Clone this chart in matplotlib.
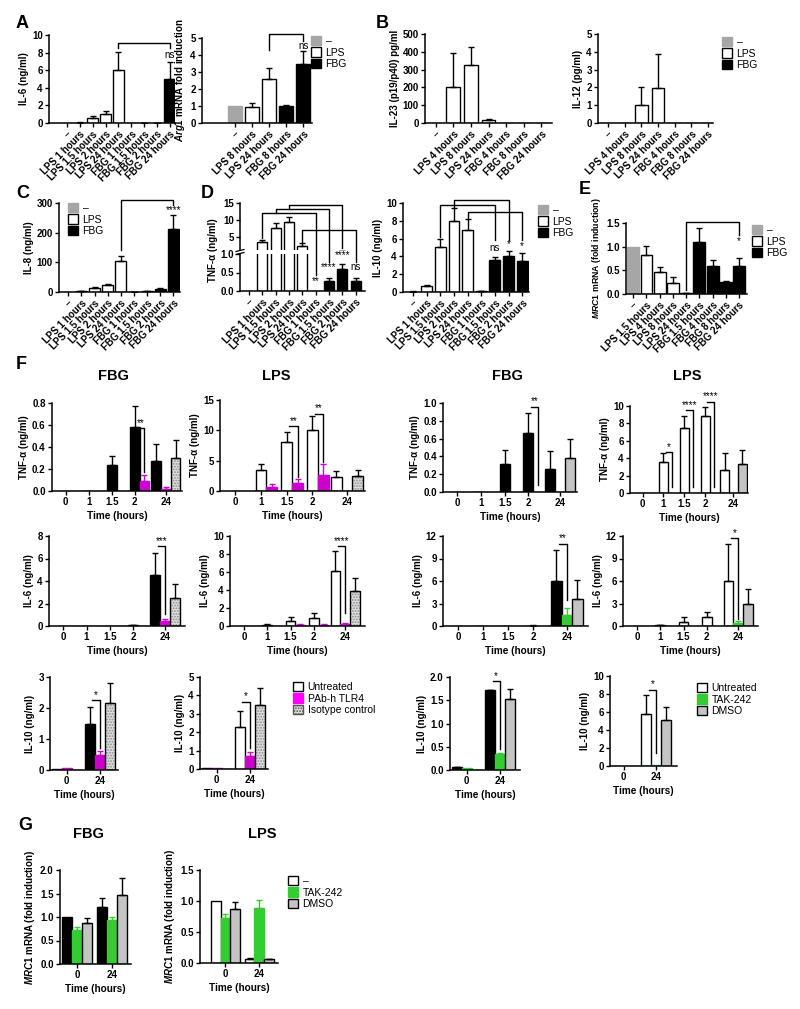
import numpy as np
import matplotlib
matplotlib.use('Agg')
import matplotlib.pyplot as plt
from matplotlib.patches import Patch
from matplotlib.lines import Line2D

plt.rcParams['font.family'] = ['Liberation Sans', 'DejaVu Sans']
plt.rcParams['font.weight'] = 'bold'
plt.rcParams['axes.labelweight'] = 'bold'
plt.rcParams['mathtext.fontset'] = 'custom'
plt.rcParams['mathtext.it'] = 'Liberation Sans:italic:bold'
plt.rcParams['mathtext.rm'] = 'Liberation Sans:bold'
plt.rcParams['mathtext.bf'] = 'Liberation Sans:bold'
plt.rcParams['hatch.linewidth'] = 0.9

W, H = 800, 1009
fig = plt.figure(figsize=(W / 100, H / 100), dpi=100)

# ------------------------------------------------------------------ DATA
a_il6_cats = ['–', 'LPS 1 hours', 'LPS 1.5 hours', 'LPS 2 hours', 'LPS 24 hours',
              'FBG 1 hours', 'FBG 1.5 hours', 'FBG 2 hours', 'FBG 24 hours']
a_il6 = [0, 0.05, 0.55, 1.0, 6.05, 0.0, 0.02, 0.03, 5.05]
a_il6_err = [0, 0.05, 0.3, 0.4, 2.05, 0, 0.01, 0.02, 1.85]

a_arg1_cats = ['–', 'LPS 8 hours', 'LPS 24 hours', 'FBG 8 hours', 'FBG 24 hours']
a_arg1 = [1.0, 0.93, 2.57, 1.02, 3.45]
a_arg1_err = [0, 0.22, 0.65, 0.04, 0.8]

b_cats = ['–', 'LPS 4 hours', 'LPS 8 hours', 'LPS 24 hours',
          'FBG 4 hours', 'FBG 8 hours', 'FBG 24 hours']
b_il23 = [0, 200, 327, 15, 0, 0, 0]
b_il23_err = [0, 195, 98, 8, 0, 0, 0]
b_il12 = [0, 0, 1.0, 1.95, 0, 0, 0]
b_il12_err = [0, 0, 1.0, 1.93, 0, 0, 0]

cd_cats = a_il6_cats
c_il8 = [0, 3, 13, 22, 103, 1, 3, 10, 213]
c_il8_err = [0, 1.5, 3, 6, 18, 0.5, 1.5, 3, 48]
d_tnf = [0, 3.5, 7.6, 9.4, 2.2, 0.005, 0.26, 0.6, 0.26]
d_tnf_err = [0, 0.6, 1.3, 1.4, 1.0, 0, 0.1, 0.14, 0.1]
d_il10 = [0.05, 0.65, 5.1, 8.0, 6.95, 0.1, 3.55, 4.0, 3.5]
d_il10_err = [0.02, 0.12, 0.9, 1.4, 1.2, 0.03, 0.4, 0.6, 0.9]

e_cats = ['–', 'LPS 1.5 hours', 'LPS 4 hours', 'LPS 8 hours', 'LPS 24 hours',
          'FBG 1.5 hours', 'FBG 4 hours', 'FBG 8 hours', 'FBG 24 hours']
e_mrc1 = [1.0, 0.82, 0.47, 0.23, 0.02, 1.1, 0.6, 0.26, 0.59]
e_mrc1_err = [0, 0.19, 0.11, 0.13, 0.01, 0.3, 0.11, 0.02, 0.18]

f_times = ['0', '1', '1.5', '2', '24']
# TNF-alpha, PAb-h TLR4 experiment
f_tnf_fbg_unt = [0, 0, 0.24, 0.58, 0.27]
f_tnf_fbg_unt_err = [0, 0, 0.08, 0.19, 0.16]
f_tnf_fbg_pab = [0, 0, 0, 0.09, 0.02]
f_tnf_fbg_pab_err = [0, 0, 0, 0.06, 0.015]
f_tnf_fbg_iso = [0, 0, 0, 0, 0.30]
f_tnf_fbg_iso_err = [0, 0, 0, 0, 0.16]
f_tnf_lps_unt = [0, 3.5, 8.0, 10.0, 2.35]
f_tnf_lps_unt_err = [0, 1.0, 1.8, 2.4, 1.0]
f_tnf_lps_pab = [0, 0.7, 1.35, 2.6, 0.05]
f_tnf_lps_pab_err = [0, 0.4, 0.65, 1.85, 0]
f_tnf_lps_iso = [0, 0, 0, 0, 2.5]
f_tnf_lps_iso_err = [0, 0, 0, 0, 0.95]
# TNF-alpha, TAK-242 experiment
f_tnf_fbg2_unt = [0, 0, 0.32, 0.66, 0.26]
f_tnf_fbg2_unt_err = [0, 0, 0.15, 0.23, 0.2]
f_tnf_fbg2_tak = [0, 0, 0, 0, 0]
f_tnf_fbg2_tak_err = [0, 0, 0, 0, 0]
f_tnf_fbg2_dmso = [0, 0, 0, 0, 0.38]
f_tnf_fbg2_dmso_err = [0, 0, 0, 0, 0.22]
f_tnf_lps2_unt = [0, 3.6, 7.5, 8.8, 2.7]
f_tnf_lps2_unt_err = [0, 0.95, 1.35, 1.05, 1.9]
f_tnf_lps2_tak = [0, 0, 0, 0, 0]
f_tnf_lps2_tak_err = [0, 0, 0, 0, 0]
f_tnf_lps2_dmso = [0, 0, 0, 0, 3.3]
f_tnf_lps2_dmso_err = [0, 0, 0, 0, 1.6]
# IL-6, PAb-h TLR4 experiment
f_il6_fbg_unt = [0, 0, 0.01, 0.05, 4.5]
f_il6_fbg_unt_err = [0, 0, 0, 0.02, 2.0]
f_il6_fbg_pab = [0, 0.02, 0.02, 0.02, 0.44]
f_il6_fbg_pab_err = [0, 0, 0, 0, 0.2]
f_il6_fbg_iso = [0, 0, 0, 0, 2.45]
f_il6_fbg_iso_err = [0, 0, 0, 0, 1.25]
f_il6_lps_unt = [0, 0.1, 0.55, 0.92, 6.1]
f_il6_lps_unt_err = [0, 0.1, 0.4, 0.58, 2.2]
f_il6_lps_pab = [0, 0.05, 0.12, 0.12, 0.2]
f_il6_lps_pab_err = [0, 0, 0.05, 0.05, 0.1]
f_il6_lps_iso = [0, 0, 0, 0, 3.85]
f_il6_lps_iso_err = [0, 0, 0, 0, 1.5]
# IL-6, TAK-242 experiment
f_il6_fbg2_unt = [0, 0, 0.02, 0.05, 6.0]
f_il6_fbg2_unt_err = [0, 0, 0, 0.02, 4.15]
f_il6_fbg2_tak = [0, 0, 0, 0, 1.42]
f_il6_fbg2_tak_err = [0, 0, 0, 0, 1.03]
f_il6_fbg2_dmso = [0, 0, 0, 0, 3.6]
f_il6_fbg2_dmso_err = [0, 0, 0, 0, 2.53]
f_il6_lps2_unt = [0, 0.1, 0.6, 1.15, 6.0]
f_il6_lps2_unt_err = [0, 0.05, 0.65, 0.75, 4.9]
f_il6_lps2_tak = [0, 0, 0, 0, 0.35]
f_il6_lps2_tak_err = [0, 0, 0, 0, 0.35]
f_il6_lps2_dmso = [0, 0, 0, 0, 2.9]
f_il6_lps2_dmso_err = [0, 0, 0, 0, 2.0]
# IL-10 (0 h and 24 h)
f_t2 = ['0', '24']
f_il10_fbg_unt = [0.02, 1.47]
f_il10_fbg_unt_err = [0, 0.55]
f_il10_fbg_pab = [0.05, 0.47]
f_il10_fbg_pab_err = [0, 0.15]
f_il10_fbg_iso = [0, 2.16]
f_il10_fbg_iso_err = [0, 0.66]
f_il10_lps_unt = [0.03, 2.3]
f_il10_lps_unt_err = [0, 0.87]
f_il10_lps_pab = [0.07, 0.68]
f_il10_lps_pab_err = [0, 0.22]
f_il10_lps_iso = [0, 3.47]
f_il10_lps_iso_err = [0, 0.95]
f_il10_fbg2_unt = [0.06, 1.71]
f_il10_fbg2_unt_err = [0.015, 0.02]
f_il10_fbg2_tak = [0.04, 0.34]
f_il10_fbg2_tak_err = [0, 0.02]
f_il10_fbg2_dmso = [0, 1.52]
f_il10_fbg2_dmso_err = [0, 0.22]
f_il10_lps2_unt = [0.03, 5.75]
f_il10_lps2_unt_err = [0, 2.1]
f_il10_lps2_tak = [0.05, 0.1]
f_il10_lps2_tak_err = [0, 0]
f_il10_lps2_dmso = [0, 5.15]
f_il10_lps2_dmso_err = [0, 1.45]
# G: MRC1
g_fbg_unt = [1.0, 1.22]
g_fbg_unt_err = [0, 0.18]
g_fbg_tak = [0.73, 0.94]
g_fbg_tak_err = [0.05, 0.05]
g_fbg_dmso = [0.87, 1.46]
g_fbg_dmso_err = [0.11, 0.37]
g_lps_unt = [1.0, 0.07]
g_lps_unt_err = [0, 0.01]
g_lps_tak = [0.72, 0.89]
g_lps_tak_err = [0.07, 0.13]
g_lps_dmso = [0.87, 0.06]
g_lps_dmso_err = [0.11, 0.01]

# ------------------------------------------------------------------ STYLE
GRAY = '#a6a6a6'
MAG = '#cc00cc'
GRN = '#33cc33'
DMSO = '#c4c4c4'
ISO = '#dedede'
FS = 7
RFS = 7.2


def add_ax(l, t, r, b):
    return fig.add_axes([l / W, 1 - b / H, (r - l) / W, (b - t) / H])


def style(ax):
    for s in ['top', 'right']:
        ax.spines[s].set_visible(False)
    for s in ['left', 'bottom']:
        ax.spines[s].set_linewidth(1.1)
    ax.tick_params(direction='out', length=3, width=1.0, labelsize=FS, pad=1.5)


def to_fig(ax, x, y):
    return fig.transFigure.inverted().transform(ax.transData.transform((x, y)))


def draw_path(pts, color='k'):
    P = np.array([to_fig(a, x, y) for a, x, y in pts])
    fig.add_artist(Line2D(P[:, 0], P[:, 1], transform=fig.transFigure,
                          color=color, lw=1.0))


def fig_label(ax, x, y, s, va='center', size=7):
    p = to_fig(ax, x, y)
    fig.text(p[0], p[1], s, ha='center', va=va, fontsize=size, fontweight='normal')


def cat_colors(cats):
    face, edge = [], []
    for c in cats:
        if c.startswith('LPS'):
            face.append('white'); edge.append('black')
        elif c.startswith('FBG'):
            face.append('black'); edge.append('black')
        else:
            face.append(GRAY); edge.append(GRAY)
    return face, edge


def cat_bars(ax, cats, vals, errs, width):
    x = np.arange(len(cats))
    face, edge = cat_colors(cats)
    ax.bar(x, vals, width, color=face, edgecolor=edge, linewidth=1.0)
    errs = np.asarray(errs, float)
    vals = np.asarray(vals, float)
    m = errs > 0
    ax.errorbar(x[m], vals[m], yerr=[np.zeros(m.sum()), errs[m]], fmt='none',
                ecolor='k', elinewidth=1.0, capsize=2.2, capthick=1.0)
    return x


def cat_panel(rect, cats, vals, errs, xlim, ylim, yticks, ylabel, width=0.8, yfs=FS):
    ax = add_ax(*rect)
    x = cat_bars(ax, cats, vals, errs, width)
    ax.set_xlim(xlim)
    ax.set_ylim(ylim)
    ax.set_yticks(yticks)
    ax.set_xticks(x)
    ax.set_xticklabels(cats, rotation=45, ha='right', va='top',
                       rotation_mode='anchor', fontsize=RFS)
    ax.set_ylabel(ylabel, fontsize=yfs, labelpad=2)
    style(ax)
    return ax


def bracket(ax, i1, y1, i2, y2, level, label, label_y):
    draw_path([(ax, i1, y1), (ax, i1, level), (ax, i2, level), (ax, i2, y2)])
    fig_label(ax, i2, label_y, label)


KIND = {'fbg': ('black', 'black'), 'lps': ('white', 'black'),
        'pab': (MAG, MAG), 'tak': (GRN, GRN), 'dmso': (DMSO, 'black')}


def draw_bars(ax, xp, vals, errs, kind, w):
    vals = np.asarray(vals, float)
    errs = np.asarray(errs, float)
    xp = np.asarray(xp, float)
    if kind == 'iso':
        ax.bar(xp, vals, w, color=ISO, edgecolor='#8c8c8c', hatch='......', linewidth=0)
        ax.bar(xp, vals, w, fill=False, edgecolor='k', linewidth=1.0)
        ec = 'k'
    else:
        face, ec = KIND[kind]
        ax.bar(xp, vals, w, color=face, edgecolor=ec, linewidth=1.0)
    m = errs > 0
    if m.any():
        ax.errorbar(xp[m], vals[m], yerr=[np.zeros(m.sum()), errs[m]], fmt='none',
                    ecolor=ec, elinewidth=1.0, capsize=2.0, capthick=1.0)


def grp_panel(rect, ticks, ticklabels, xlim, ylim, yticks, ylabel, series,
              positions, w, brackets):
    ax = add_ax(*rect)
    for (vals, errs, kind), xp in zip(series, positions):
        draw_bars(ax, xp, vals, errs, kind, w)
    ax.set_xlim(xlim)
    ax.set_ylim(ylim)
    ax.set_yticks(yticks)
    ax.set_xticks(ticks)
    ax.set_xticklabels(ticklabels, fontsize=FS)
    ax.set_ylabel(ylabel, fontsize=FS, labelpad=2)
    ax.set_xlabel('Time (hours)', fontsize=7.2, labelpad=3)
    style(ax)
    unt, inh = positions[0], positions[1]
    for g, level, bottom, lab in brackets:
        xa = unt[g] + 0.25 * w
        xb = inh[g]
        draw_path([(ax, xa, level), (ax, xb, level), (ax, xb, bottom)])
        p = to_fig(ax, (xa + xb) / 2, level)
        fig.text(p[0], p[1] + 0.5 / H, lab, ha='center', va='bottom',
                 fontsize=7, fontweight='normal')
    return ax


def legend(handles, labels, x, y):
    fig.legend(handles, labels, loc='upper left', bbox_to_anchor=(x / W, 1 - y / H),
               frameon=False, prop={'size': 7.5, 'weight': 'normal'},
               handlelength=1.0, handleheight=1.0, handletextpad=0.4,
               labelspacing=0.12, borderpad=0, borderaxespad=0)


def letter(s, x, y, size=13):
    fig.text(x / W, 1 - y / H, s, fontsize=size, fontweight='bold', ha='left', va='center')


h_ctrl = [Patch(fc=GRAY, ec=GRAY), Patch(fc='white', ec='k', lw=1),
          Patch(fc='k', ec='k')]
l_ctrl = ['–', 'LPS', 'FBG']

# ------------------------------------------------------------------ A
ax = cat_panel((49, 35, 175, 123), a_il6_cats, a_il6, a_il6_err, (-1.4, 8.4),
               (0, 10), [0, 2, 4, 6, 8, 10], 'IL-6 (ng/ml)', 0.85)
bracket(ax, 4, 8.5, 8, 8.5, 9.1, 'ns', 7.7)
ax = cat_panel((202, 38, 312, 123), a_arg1_cats, a_arg1, a_arg1_err, (-1.9, 4.5),
               (0, 5), [0, 1, 2, 3, 4, 5], r'$\mathit{Arg1}$ mRNA fold induction', 0.82)
bracket(ax, 2, 4.3, 4, 4.85, 5.24, 'ns', 4.55)
legend(h_ctrl, l_ctrl, 311, 36)
letter('A', 16, 23)

# ------------------------------------------------------------------ B
cat_panel((425, 34, 552, 123), b_cats, b_il23, b_il23_err, (-0.6, 6.6),
          (0, 500), [0, 100, 200, 300, 400, 500], 'IL-23 (p19/p40) pg/ml', 0.77)
cat_panel((598, 34, 713, 123), b_cats, b_il12, b_il12_err, (-0.6, 6.3),
          (0, 5), [0, 1, 2, 3, 4, 5], 'IL-12 (pg/ml)', 0.75)
legend(h_ctrl, l_ctrl, 722, 37)
letter('B', 376, 23)

# ------------------------------------------------------------------ C
ax = cat_panel((59, 203, 180, 292), cd_cats, c_il8, c_il8_err, (-0.7, 8.5),
               (0, 300), [0, 100, 200, 300], 'IL-8 (ng/ml)', 0.85)
bracket(ax, 4, 141, 8, 294, 311, '****', 277)
legend(h_ctrl, l_ctrl, 68, 203)
letter('C', 16, 194)

# ------------------------------------------------------------------ D (TNF, broken axis)
ax_lo = add_ax(240, 254, 365, 291)
ax_up = add_ax(240, 203, 365, 250)
for a in (ax_lo, ax_up):
    xd = cat_bars(a, cd_cats, d_tnf, d_tnf_err, 0.75)
    a.set_xlim(-0.68, 8.7)
    style(a)
ax_lo.set_ylim(0, 1.0)
ax_lo.set_yticks([0, 0.5, 1.0])
ax_lo.set_yticklabels(['0.0', '0.5', '1.0'])
ax_lo.set_xticks(xd)
ax_lo.set_xticklabels(cd_cats, rotation=45, ha='right', va='top',
                      rotation_mode='anchor', fontsize=RFS)
ax_up.set_ylim(1, 15)
ax_up.set_yticks([5, 10, 15])
ax_up.spines['bottom'].set_visible(False)
ax_up.set_xticks([])
fig.text(213 / W, 1 - 250 / H, 'TNF-α (ng/ml)', rotation=90, ha='center',
         va='center', fontsize=FS, fontweight='bold')
for yy in (250.5, 253.5):
    fig.add_artist(Line2D([236 / W, 244 / W], [1 - (yy + 1) / H, 1 - (yy - 1) / H],
                          transform=fig.transFigure, color='k', lw=0.9))
draw_path([(ax_up, 1, 4.6), (ax_up, 1, 12.0), (ax_up, 5, 12.0), (ax_lo, 5, 0.43)])
fig_label(ax_lo, 5, 0.27, '**')
draw_path([(ax_up, 2, 12.0), (ax_up, 2, 13.2), (ax_up, 6, 13.2), (ax_lo, 6, 0.79)])
fig_label(ax_lo, 6, 0.66, '****')
draw_path([(ax_up, 3, 13.2), (ax_up, 3, 14.4), (ax_up, 7, 14.4), (ax_up, 7, 1.6)])
fig_label(ax_lo, 7, 0.97, '****')
draw_path([(ax_up, 4, 3.5), (ax_up, 4, 6.95), (ax_up, 8, 6.95), (ax_lo, 8, 0.79)])
fig_label(ax_lo, 8, 0.66, 'ns')
letter('D', 201, 194)

# D IL-10
ax = cat_panel((403, 203, 529, 292), cd_cats, d_il10, d_il10_err, (-0.74, 8.5),
               (0, 10), [0, 2, 4, 6, 8, 10], 'IL-10 (ng/ml)', 0.8)
bracket(ax, 2, 6.2, 6, 5.8, 9.74, 'ns', 4.9)
bracket(ax, 3, 9.6, 7, 5.8, 10.3, '*', 5.4)
bracket(ax, 4, 8.3, 8, 5.8, 9.0, '*', 5.2)
legend(h_ctrl, l_ctrl, 538, 205)

# ------------------------------------------------------------------ E
ax = cat_panel((626, 223, 747, 294), e_cats, e_mrc1, e_mrc1_err, (-0.55, 8.6),
               (0, 1.5), [0, 0.5, 1.0, 1.5], r'$\mathit{MRC1}$ mRNA (fold induction)', 0.9,
               yfs=6.3)
ax.set_yticklabels(['0.0', '0.5', '1.0', '1.5'])
bracket(ax, 4, 0.09, 8, 1.24, 1.52, '*', 1.12)
legend(h_ctrl, l_ctrl, 752, 225)
letter('E', 579, 190)

# ------------------------------------------------------------------ F
letter('F', 16, 365)
for s, x in [('FBG', 113), ('LPS', 276), ('FBG', 507), ('LPS', 687)]:
    fig.text(x / W, 1 - 376 / H, s, ha='center', va='center', fontsize=10.5,
             fontweight='bold')

w1 = 0.42
t1 = np.array([0, 1, 2, 3, 4.35])
u1 = t1 + np.array([0, 0, 0, 0, -w1])
pos1 = [u1, u1 + w1, u1 + 2 * w1]
xl1 = (-0.6, 5.05)

grp_panel((52, 403, 182, 491), t1, f_times, xl1, (0, 0.8), [0, 0.2, 0.4, 0.6, 0.8],
          'TNF-α (ng/ml)',
          [(f_tnf_fbg_unt, f_tnf_fbg_unt_err, 'fbg'), (f_tnf_fbg_pab, f_tnf_fbg_pab_err, 'pab'),
           (f_tnf_fbg_iso, f_tnf_fbg_iso_err, 'iso')], pos1, w1,
          [(3, 0.57, 0.17, '**')])
grp_panel((220, 400, 365, 491), t1, f_times, xl1, (0, 15), [0, 5, 10, 15],
          'TNF-α (ng/ml)',
          [(f_tnf_lps_unt, f_tnf_lps_unt_err, 'lps'), (f_tnf_lps_pab, f_tnf_lps_pab_err, 'pab'),
           (f_tnf_lps_iso, f_tnf_lps_iso_err, 'iso')], pos1, w1,
          [(2, 10.7, 2.3, '**'), (3, 12.7, 4.7, '**')])
grp_panel((443, 403, 577, 492), t1, f_times, xl1, (0, 1.0), [0, 0.2, 0.4, 0.6, 0.8, 1.0],
          'TNF-α (ng/ml)',
          [(f_tnf_fbg2_unt, f_tnf_fbg2_unt_err, 'fbg'), (f_tnf_fbg2_tak, f_tnf_fbg2_tak_err, 'tak'),
           (f_tnf_fbg2_dmso, f_tnf_fbg2_dmso_err, 'dmso')], pos1, w1,
          [(3, 0.96, 0.08, '**')])
grp_panel((630, 406, 748, 493), t1, f_times, xl1, (0, 10), [0, 2, 4, 6, 8, 10],
          'TNF-α (ng/ml)',
          [(f_tnf_lps2_unt, f_tnf_lps2_unt_err, 'lps'), (f_tnf_lps2_tak, f_tnf_lps2_tak_err, 'tak'),
           (f_tnf_lps2_dmso, f_tnf_lps2_dmso_err, 'dmso')], pos1, w1,
          [(1, 4.7, 0.7, '*'), (2, 9.5, 0.7, '****'), (3, 10.5, 0.7, '****')])

xl2 = (-0.6, 5.2)
grp_panel((49, 536, 185, 626), t1, f_times, xl2, (0, 8), [0, 2, 4, 6, 8],
          'IL-6 (ng/ml)',
          [(f_il6_fbg_unt, f_il6_fbg_unt_err, 'fbg'), (f_il6_fbg_pab, f_il6_fbg_pab_err, 'pab'),
           (f_il6_fbg_iso, f_il6_fbg_iso_err, 'iso')], pos1, w1,
          [(4, 7.1, 1.1, '***')])
grp_panel((230, 536, 365, 626), t1, f_times, xl2, (0, 10), [0, 2, 4, 6, 8, 10],
          'IL-6 (ng/ml)',
          [(f_il6_lps_unt, f_il6_lps_unt_err, 'lps'), (f_il6_lps_pab, f_il6_lps_pab_err, 'pab'),
           (f_il6_lps_iso, f_il6_lps_iso_err, 'iso')], pos1, w1,
          [(4, 8.85, 1.4, '****')])
grp_panel((443, 536, 588, 626), t1, f_times, xl2, (0, 12), [0, 3, 6, 9, 12],
          'IL-6 (ng/ml)',
          [(f_il6_fbg2_unt, f_il6_fbg2_unt_err, 'fbg'), (f_il6_fbg2_tak, f_il6_fbg2_tak_err, 'tak'),
           (f_il6_fbg2_dmso, f_il6_fbg2_dmso_err, 'dmso')], pos1, w1,
          [(4, 11.0, 3.5, '**')])
grp_panel((623, 536, 758, 626), t1, f_times, xl2, (0, 12), [0, 3, 6, 9, 12],
          'IL-6 (ng/ml)',
          [(f_il6_lps2_unt, f_il6_lps2_unt_err, 'lps'), (f_il6_lps2_tak, f_il6_lps2_tak_err, 'tak'),
           (f_il6_lps2_dmso, f_il6_lps2_dmso_err, 'dmso')], pos1, w1,
          [(4, 11.7, 1.0, '*')])

w3 = 0.3
t3 = np.array([0, 1])
pos3 = [t3 - w3, t3, t3 + w3]
grp_panel((50, 677, 118, 770), t3, f_t2, (-0.5, 1.55), (0, 3), [0, 1, 2, 3],
          'IL-10 (ng/ml)',
          [(f_il10_fbg_unt, f_il10_fbg_unt_err, 'fbg'), (f_il10_fbg_pab, f_il10_fbg_pab_err, 'pab'),
           (f_il10_fbg_iso, f_il10_fbg_iso_err, 'iso')], pos3, w3,
          [(1, 2.25, 0.7, '*')])
grp_panel((200, 677, 268, 769), t3, f_t2, (-0.5, 1.55), (0, 5), [0, 1, 2, 3, 4, 5],
          'IL-10 (ng/ml)',
          [(f_il10_lps_unt, f_il10_lps_unt_err, 'lps'), (f_il10_lps_pab, f_il10_lps_pab_err, 'pab'),
           (f_il10_lps_iso, f_il10_lps_iso_err, 'iso')], pos3, w3,
          [(1, 3.65, 1.13, '*')])
grp_panel((450, 677, 520, 770), t3, f_t2, (-0.5, 1.6), (0, 2.0), [0, 0.5, 1.0, 1.5, 2.0],
          'IL-10 (ng/ml)',
          [(f_il10_fbg2_unt, f_il10_fbg2_unt_err, 'fbg'), (f_il10_fbg2_tak, f_il10_fbg2_tak_err, 'tak'),
           (f_il10_fbg2_dmso, f_il10_fbg2_dmso_err, 'dmso')], pos3, w3,
          [(1, 1.91, 0.46, '*')])
grp_panel((610, 676, 677, 766), t3, f_t2, (-0.42, 1.65), (0, 10), [0, 2, 4, 6, 8, 10],
          'IL-10 (ng/ml)',
          [(f_il10_lps2_unt, f_il10_lps2_unt_err, 'lps'), (f_il10_lps2_tak, f_il10_lps2_tak_err, 'tak'),
           (f_il10_lps2_dmso, f_il10_lps2_dmso_err, 'dmso')], pos3, w3,
          [(1, 8.5, 1.4, '*')])

h_pab = [Patch(fc='white', ec='k', lw=1), Patch(fc='#ff00ff', ec='#ff00ff'),
         Patch(fc=ISO, ec='#555555', hatch='......', lw=1)]
legend(h_pab, ['Untreated', 'PAb-h TLR4', 'Isotype control'], 293, 682)
h_tak = [Patch(fc='white', ec='k', lw=1), Patch(fc=GRN, ec=GRN),
         Patch(fc=DMSO, ec='k', lw=1)]
legend(h_tak, ['Untreated', 'TAK-242', 'DMSO'], 697, 683)

# ------------------------------------------------------------------ G
letter('G', 18, 825)
fig.text(88 / W, 1 - 834 / H, 'FBG', ha='center', va='center', fontsize=10.5, fontweight='bold')
fig.text(262 / W, 1 - 834 / H, 'LPS', ha='center', va='center', fontsize=10.5, fontweight='bold')
wg = 0.29
posg = [t3 - wg, t3, t3 + wg]
grp_panel((60, 870, 131, 964), t3, f_t2, (-0.5, 1.55), (0, 2.0), [0, 0.5, 1.0, 1.5, 2.0],
          r'$\mathit{MRC1}$ mRNA (fold induction)',
          [(g_fbg_unt, g_fbg_unt_err, 'fbg'), (g_fbg_tak, g_fbg_tak_err, 'tak'),
           (g_fbg_dmso, g_fbg_dmso_err, 'dmso')], posg, wg, [])
grp_panel((200, 870, 278, 963), t3, f_t2, (-0.75, 1.55), (0, 1.5), [0, 0.5, 1.0, 1.5],
          r'$\mathit{MRC1}$ mRNA (fold induction)',
          [(g_lps_unt, g_lps_unt_err, 'lps'), (g_lps_tak, g_lps_tak_err, 'tak'),
           (g_lps_dmso, g_lps_dmso_err, 'dmso')], posg, wg, [])
h_g = [Patch(fc='white', ec='k', lw=1), Patch(fc=GRN, ec=GRN), Patch(fc=DMSO, ec='k', lw=1)]
legend(h_g, ['–', 'TAK-242', 'DMSO'], 288, 876)

fig.savefig('out.png', dpi=100, facecolor='white')
